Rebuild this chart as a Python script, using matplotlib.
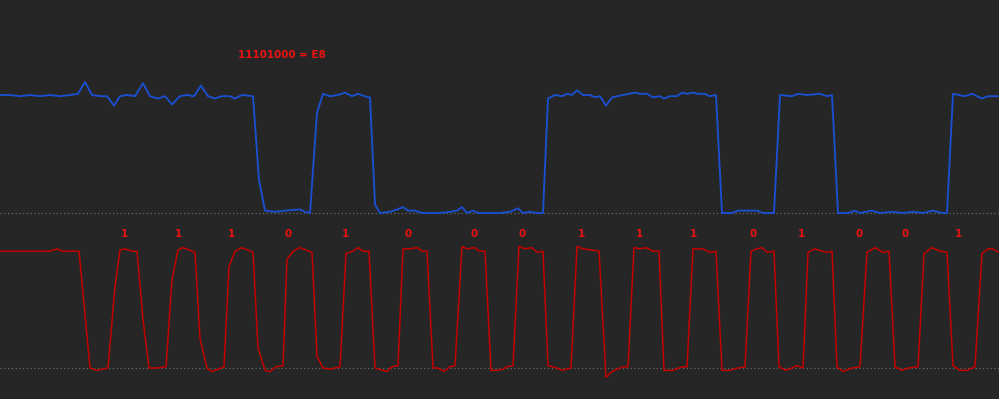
import matplotlib
matplotlib.use('Agg')
from matplotlib import pyplot as plt

# data channel (blue): sample time (px-ish units) and level (% of high)
data_t = [0, 10, 20, 30, 40, 50, 60, 70, 78, 85, 92, 100, 107, 114, 120, 127, 135, 143, 150, 158,
          165, 172, 180, 187, 194, 201, 208, 215, 222, 230, 235, 242, 253, 259, 265, 275, 285, 300,
          305, 310, 317, 323, 330, 338, 345, 352, 358, 368, 370, 375, 380, 390, 397, 403, 408, 415,
          422, 440, 450, 457, 462, 467, 473, 478, 500, 510, 518, 523, 530, 537, 543, 548, 555, 562,
          567, 572, 577, 583, 590, 595, 600, 606, 612, 618, 623, 635, 640, 647, 653, 660, 664, 670,
          677, 682, 687, 693, 698, 705, 709, 716, 722, 732, 738, 750, 757, 763, 774, 780, 792, 798,
          807, 820, 827, 832, 838, 848, 855, 860, 872, 880, 893, 902, 913, 923, 933, 942, 947, 953,
          965, 972, 982, 988, 999]
data_v = [100, 100, 99, 100, 99, 100, 99, 100, 101, 111, 100, 99, 99, 91, 99, 100, 99, 110, 99, 97,
          99, 92, 99, 100, 99, 108, 99, 97, 99, 99, 97, 100, 99, 28, 2, 1, 2, 3,
          1, 0, 85, 101, 99, 100, 102, 99, 101, 98, 98, 7, 0, 1, 3, 5, 2, 2,
          0, 0, 1, 2, 5, 0, 2, 0, 0, 1, 4, 0, 1, 0, 0, 97, 100, 99,
          101, 100, 104, 100, 100, 98, 99, 91, 98, 99, 100, 102, 101, 101, 98, 99, 97, 99,
          99, 102, 101, 102, 101, 101, 99, 100, 0, 0, 2, 2, 2, 0, 0, 100, 99, 101,
          100, 101, 99, 100, 0, 0, 2, 0, 2, 0, 1, 0, 1, 0, 2, 0, 0, 101,
          99, 101, 97, 99, 99]

# clock channel (red)
clk_t = [0, 50, 57, 62, 79, 90, 97, 108, 115, 120, 125, 132, 137, 143, 149, 157, 166, 172, 178, 183,
         195, 200, 207, 212, 224, 229, 235, 242, 253, 258, 265, 270, 276, 283, 287, 293, 300, 312,
         317, 323, 330, 340, 346, 353, 358, 363, 369, 375, 383, 387, 392, 398, 403, 410, 417, 422,
         427, 433, 438, 444, 450, 455, 462, 467, 475, 479, 485, 491, 497, 503, 507, 513, 519, 525,
         532, 537, 543, 548, 557, 562, 571, 577, 583, 599, 606, 612, 617, 623, 628, 634, 640, 646,
         653, 659, 664, 673, 682, 687, 693, 703, 710, 716, 722, 730, 738, 745, 751, 757, 762, 767,
         774, 779, 786, 792, 797, 803, 808, 815, 822, 827, 832, 837, 843, 852, 860, 867, 875, 883,
         889, 895, 902, 908, 918, 924, 932, 940, 947, 953, 960, 967, 975, 982, 988, 993, 999]
clk_v = [99, 99, 101, 99, 99, 0, -2, 0, 69, 100, 101, 99, 99, 41, 0, 0, 1, 75, 100, 102,
         98, 25, 0, -3, 1, 86, 99, 102, 98, 17, -2, -3, 1, 2, 92, 99, 102, 98,
         10, 0, -1, 1, 97, 99, 102, 99, 99, 0, -2, -3, 1, 2, 101, 101, 102, 99,
         99, 0, 0, -3, 1, 2, 103, 101, 102, 99, 99, -2, -2, -1, 1, 2, 103, 101,
         102, 98, 99, 2, 0, -2, 0, 103, 101, 99, -8, -3, -1, 1, 1, 102, 101, 102,
         99, 99, -2, -2, 1, 1, 101, 101, 98, 99, -2, -2, 0, 1, 99, 101, 102, 98,
         99, 1, -2, 0, 2, 0, 98, 101, 99, 98, 99, 1, -3, 0, 1, 98, 102, 98,
         99, 1, -2, 0, 1, 97, 102, 99, 98, 2, -2, -2, 1, 97, 101, 101, 98]

bit_x = [124, 178, 231, 288, 345, 408, 474, 522, 581, 639, 693, 753, 801, 859, 905, 958]
bits = ['1', '1', '1', '0', '1', '0', '0', '0', '1', '1', '1', '0', '1', '0', '0', '1']
byte_label = '11101000 = E8'

bg = '#262626'
fig = plt.figure(figsize=(9.99, 3.99), dpi=100, facecolor=bg)

# top axes: pixel rows 40..230, baseline at 213, high (100) at 95
ax1 = fig.add_axes([0, (399 - 230) / 399, 1, 190 / 399])
ax1.set_ylim(-(230 - 213) / 1.18, (213 - 40) / 1.18)
# bottom axes: pixel rows 232..399, baseline at 368, high at 250
ax2 = fig.add_axes([0, 0, 1, 167 / 399])
ax2.set_ylim(-(399 - 368) / 1.18, (368 - 232) / 1.18)

for ax in (ax1, ax2):
    ax.set_facecolor(bg)
    ax.set_xlim(0, 999)
    ax.axis('off')
    ax.axhline(0, color='#6a6a6a', lw=0.9, ls=(0, (1, 2)), zorder=1)

ax1.plot(data_t, data_v, color='#1a4fd0', lw=1.35, zorder=2)
ax2.plot(clk_t, clk_v, color='#c40000', lw=1.1, zorder=2)

ax1.text(238, (213 - 55) / 1.18, byte_label, color='#ee1111', fontsize=7.4,
         fontweight='bold', ha='left', va='center')
for x, b in zip(bit_x, bits):
    ax2.text(x, (368 - 234) / 1.18, b, color='#ee1111', fontsize=7.4,
             fontweight='bold', ha='center', va='center')

plt.savefig('out.png', dpi=100, facecolor=bg)
